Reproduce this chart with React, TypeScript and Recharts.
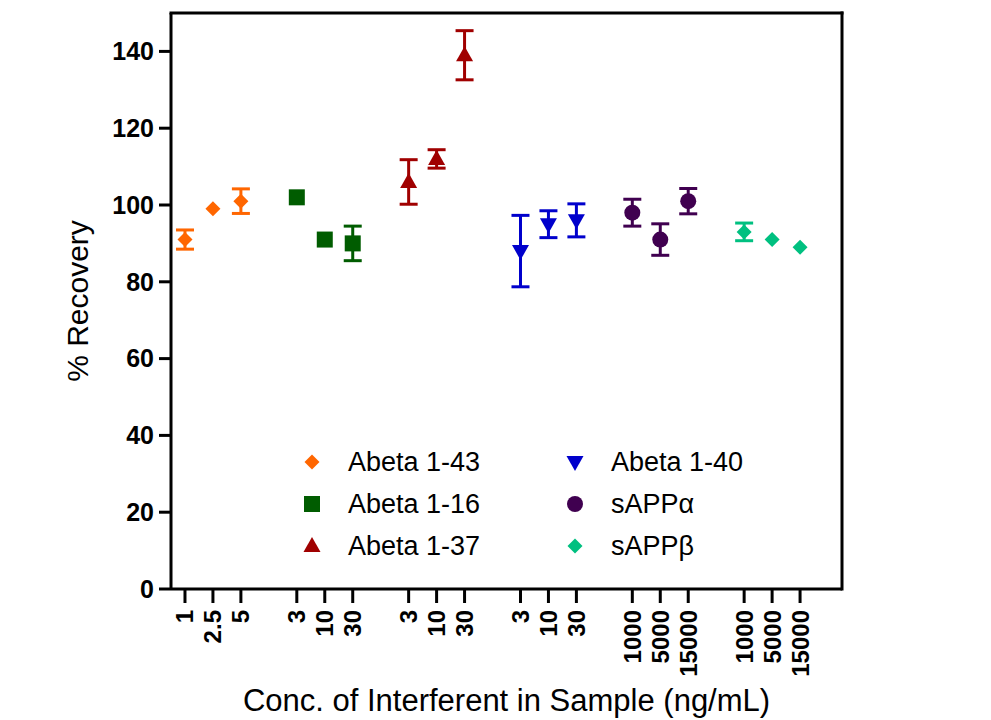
import React from 'react';
import {
  ScatterChart,
  Scatter,
  XAxis,
  YAxis,
  ErrorBar,
  Legend,
  ReferenceLine,
} from 'recharts';

// concentrations (tick labels) per interferent, ng/mL
const abeta143Conc = ['1', '2.5', '5'];
const abeta116Conc = ['3', '10', '30'];
const abeta137Conc = ['3', '10', '30'];
const abeta140Conc = ['3', '10', '30'];
const sappAConc = ['1000', '5000', '15000'];
const sappBConc = ['1000', '5000', '15000'];

// % recovery (mean)
const abeta143Recovery = [91, 99, 101];
const abeta116Recovery = [102, 91, 90];
const abeta137Recovery = [106, 112, 139];
const abeta140Recovery = [88, 95, 96];
const sappARecovery = [98, 91, 101];
const sappBRecovery = [93, 91, 89];

// error (+/-), null where no bar is shown
const abeta143Error = [2.5, null, 3.2];
const abeta116Error = [null, null, 4.5];
const abeta137Error = [5.8, 2.4, 6.4];
const abeta140Error = [9.3, 3.5, 4.3];
const sappAError = [3.5, 4.1, 3.3];
const sappBError = [2.3, null, null];

const yTicks = [0, 20, 40, 60, 80, 100, 120, 140];
const Y_MAX = 150;
const X_MIN = -0.5;
const X_MAX = 23.5;

const FONT = '"Liberation Sans", Arial, Helvetica, sans-serif';
const GROUP_GAP = 4; // 3 points + one empty slot per group

type Kind = 'diamond' | 'square' | 'triangle' | 'triangleDown' | 'circle';

interface SeriesDef {
  name: string;
  color: string;
  kind: Kind;
  conc: string[];
  recovery: number[];
  error: (number | null)[];
}

const series: SeriesDef[] = [
  { name: 'Abeta 1-43', color: '#FF6600', kind: 'diamond', conc: abeta143Conc, recovery: abeta143Recovery, error: abeta143Error },
  { name: 'Abeta 1-16', color: '#005C00', kind: 'square', conc: abeta116Conc, recovery: abeta116Recovery, error: abeta116Error },
  { name: 'Abeta 1-37', color: '#A00000', kind: 'triangle', conc: abeta137Conc, recovery: abeta137Recovery, error: abeta137Error },
  { name: 'Abeta 1-40', color: '#0000CC', kind: 'triangleDown', conc: abeta140Conc, recovery: abeta140Recovery, error: abeta140Error },
  { name: 'sAPP\u03B1', color: '#400050', kind: 'circle', conc: sappAConc, recovery: sappARecovery, error: sappAError },
  { name: 'sAPP\u03B2', color: '#00C080', kind: 'diamond', conc: sappBConc, recovery: sappBRecovery, error: sappBError },
];

const seriesData = series.map((s, gi) =>
  s.recovery.map((v, i) => ({ slot: gi * GROUP_GAP + i, recovery: v, err: s.error[i] }))
);

const tickSlots: number[] = [];
const tickLabels = new Map<number, string>();
series.forEach((s, gi) =>
  s.conc.forEach((c, i) => {
    tickSlots.push(gi * GROUP_GAP + i);
    tickLabels.set(gi * GROUP_GAP + i, c);
  })
);

function Marker({ cx, cy, kind, color }: { cx: number; cy: number; kind: Kind; color: string }) {
  if (cx == null || cy == null) return null;
  switch (kind) {
    case 'diamond':
      return <polygon points={`${cx},${cy - 7.5} ${cx + 7.5},${cy} ${cx},${cy + 7.5} ${cx - 7.5},${cy}`} fill={color} />;
    case 'square':
      return <rect x={cx - 8} y={cy - 8} width={16} height={16} fill={color} />;
    case 'triangle':
      return <polygon points={`${cx},${cy - 9} ${cx + 8.5},${cy + 6} ${cx - 8.5},${cy + 6}`} fill={color} />;
    case 'triangleDown':
      return <polygon points={`${cx},${cy + 9} ${cx + 8.5},${cy - 6} ${cx - 8.5},${cy - 6}`} fill={color} />;
    default:
      return <circle cx={cx} cy={cy} r={8} fill={color} />;
  }
}

const XTick = (props: any) => {
  const { x, y, payload } = props;
  return (
    <text
      x={x}
      y={y}
      transform={`rotate(-90 ${x} ${y})`}
      textAnchor="end"
      dominantBaseline="central"
      fontSize={24}
      fontWeight="bold"
      fontFamily={FONT}
      fill="#000"
    >
      {tickLabels.get(payload.value)}
    </text>
  );
};

const LegendContent = () => (
  <div
    style={{
      display: 'grid',
      gridTemplateColumns: '263px 200px',
      gridTemplateRows: 'repeat(3, 42px)',
      gridAutoFlow: 'column',
      fontFamily: FONT,
      fontSize: 27,
      color: '#000',
    }}
  >
    {series.map((s) => (
      <div key={s.name} style={{ display: 'flex', alignItems: 'center' }}>
        <svg width={46} height={24} style={{ flex: 'none' }}>
          <Marker cx={10} cy={12} kind={s.kind} color={s.color} />
        </svg>
        <span>{s.name}</span>
      </div>
    ))}
  </div>
);

export default function App() {
  return (
    <div style={{ position: 'absolute', left: 0, top: 0, width: 991, height: 720, background: '#fff' }}>
      <ScatterChart width={991} height={720} margin={{ top: 13, right: 149, bottom: 0, left: 0 }}>
        <XAxis
          dataKey="slot"
          type="number"
          domain={[X_MIN, X_MAX]}
          ticks={tickSlots}
          interval={0}
          height={131}
          tick={<XTick />}
          tickSize={14}
          tickMargin={7}
          tickLine={{ stroke: '#000', strokeWidth: 3 }}
          axisLine={{ stroke: '#000', strokeWidth: 3 }}
          label={{
            content: ({ viewBox }: any) => (
              <text
                x={viewBox.x + viewBox.width / 2}
                y={viewBox.y + 122}
                textAnchor="middle"
                fontSize={31}
                fontFamily={FONT}
                fill="#000"
              >
                Conc. of Interferent in Sample (ng/mL)
              </text>
            ),
          }}
        />
        <YAxis
          dataKey="recovery"
          type="number"
          domain={[0, Y_MAX]}
          ticks={yTicks}
          width={171}
          tickSize={12}
          tickMargin={5}
          tick={{ fontSize: 25, fontWeight: 'bold', fill: '#000', fontFamily: FONT }}
          tickLine={{ stroke: '#000', strokeWidth: 3 }}
          axisLine={{ stroke: '#000', strokeWidth: 3 }}
          label={{
            content: ({ viewBox }: any) => {
              const cx = viewBox.x + 77;
              const cy = viewBox.y + viewBox.height / 2;
              return (
                <text
                  x={cx}
                  y={cy}
                  transform={`rotate(-90 ${cx} ${cy})`}
                  textAnchor="middle"
                  dominantBaseline="central"
                  fontSize={30}
                  fontFamily={FONT}
                  fill="#000"
                >
                  % Recovery
                </text>
              );
            },
          }}
        />
        {/* frame: top and right edges */}
        <ReferenceLine y={Y_MAX} stroke="#000" strokeWidth={3} strokeLinecap="square" />
        <ReferenceLine x={X_MAX} stroke="#000" strokeWidth={3} strokeLinecap="square" />
        <Legend
          layout="vertical"
          align="center"
          verticalAlign="middle"
          wrapperStyle={{ left: 302, top: 441, width: 480 }}
          content={<LegendContent />}
        />
        {series.map((s, gi) => (
          <Scatter
            key={s.name}
            name={s.name}
            data={seriesData[gi]}
            fill={s.color}
            isAnimationActive={false}
            shape={(p: any) => <Marker cx={p.cx} cy={p.cy} kind={s.kind} color={s.color} />}
          >
            <ErrorBar dataKey="err" direction="y" width={9} strokeWidth={3} stroke={s.color} />
          </Scatter>
        ))}
      </ScatterChart>
    </div>
  );
}
